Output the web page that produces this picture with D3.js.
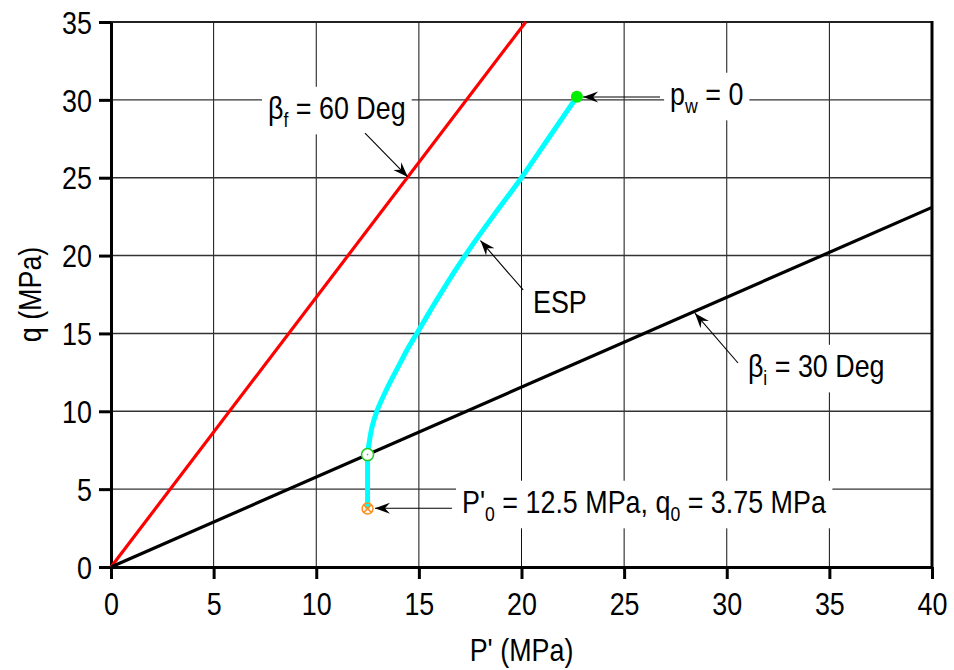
<!DOCTYPE html>
<html>
<head>
<meta charset="utf-8">
<script src="https://cdn.jsdelivr.net/npm/d3@7"></script>
<style>
  body { margin: 0; background: #fff; }
  svg { display: block; }
</style>
</head>
<body>
<svg id="chart" width="954" height="670"></svg>
<script>
// ---- data ----
const xTicks = [0, 5, 10, 15, 20, 25, 30, 35, 40];
const yTicks = [0, 5, 10, 15, 20, 25, 30, 35];

// failure and initial stress-path lines (angles in degrees)
const failureAngle = 60;
const initialAngle = 30;

// effective stress path (P', q) in MPa
const espP = [12.5, 12.5, 12.58, 12.72, 12.95, 13.28, 13.65, 14.05, 14.45, 14.9, 15.35, 15.8, 16.27, 16.75, 17.25, 18.6, 20.0, 21.35, 22.7];
const espQ = [3.75, 7.22, 8.0, 9.0, 10.0, 11.0, 12.0, 13.0, 14.0, 15.0, 16.0, 17.0, 18.0, 19.0, 20.0, 22.5, 25.0, 27.6, 30.2];

const startP = 12.5, startQ = 3.75;   // P'0, q0
const endP = 22.7, endQ = 30.2;       // pw = 0

// ---- layout ----
const W = 954, H = 670;
const margin = { left: 111, right: 22, top: 22, bottom: 103 };
const FONT = "'Liberation Sans', Arial, Helvetica, sans-serif";
const FS = 32, SUB = 21, SX = 0.84;

const svg = d3.select("#chart");
const x = d3.scaleLinear().domain([0, 40]).range([margin.left, W - margin.right]);
const y = d3.scaleLinear().domain([0, 35]).range([H - margin.bottom, margin.top]);

// ---- grid ----
const grid = svg.append("g");
grid.selectAll("line.v").data(xTicks.slice(1, -1)).join("line")
  .attr("x1", d => x(d)).attr("x2", d => x(d))
  .attr("y1", y(0)).attr("y2", y(35))
  .attr("stroke", "#111").attr("stroke-width", 1);
grid.selectAll("line.h").data(yTicks.slice(1, -1)).join("line")
  .attr("y1", d => y(d)).attr("y2", d => y(d))
  .attr("x1", x(0)).attr("x2", x(40))
  .attr("stroke", "#333").attr("stroke-width", 1.4);

// ---- annotation text helper ----
function makeLabel(px, py, parts) {
  const g = svg.append("g").attr("transform", `translate(${x(px)},${y(py)})`);
  const t = g.append("text")
    .attr("transform", `scale(${SX},1)`)
    .attr("font-family", FONT).attr("font-size", FS).attr("fill", "#000");
  let shift = 0;
  parts.forEach(p => {
    const sub = !!p.sub;
    const dy = sub ? 8 - shift : -shift;
    shift = sub ? 8 : 0;
    t.append("tspan").attr("dy", dy).attr("font-size", sub ? SUB : FS).text(p.t);
  });
  const bb = g.node().getBBox();
  g.insert("rect", "text")
    .attr("x", bb.x - 6).attr("y", bb.y - 3)
    .attr("width", bb.width + 12).attr("height", bb.height + 6)
    .attr("fill", "#fff");
  return g;
}

// labels sit under the data lines so their white boxes only mask the grid
makeLabel(7.65, 28.77, [{ t: "β" }, { t: "f", sub: true }, { t: " = 60 Deg" }]);
makeLabel(27.24, 29.67, [{ t: "p" }, { t: "w", sub: true }, { t: " = 0" }]);
makeLabel(20.56, 16.31, [{ t: "ESP" }]);
makeLabel(31.03, 12.2, [{ t: "β" }, { t: "i", sub: true }, { t: " = 30 Deg" }]);
makeLabel(17.1, 3.47, [{ t: "P'" }, { t: "0", sub: true }, { t: " = 12.5 MPa, q" }, { t: "0", sub: true }, { t: " = 3.75 MPa" }]);

// ---- frame and axes ----
svg.append("line").attr("x1", x(0)).attr("x2", x(40)).attr("y1", y(35)).attr("y2", y(35))
  .attr("stroke", "#222").attr("stroke-width", 2);
svg.append("line").attr("x1", x(40)).attr("x2", x(40)).attr("y1", y(35) - 1).attr("y2", y(0))
  .attr("stroke", "#000").attr("stroke-width", 3);

const xAxis = svg.append("g").attr("transform", `translate(0,${y(0)})`)
  .call(d3.axisBottom(x).tickValues(xTicks).tickSize(12).tickSizeOuter(0).tickPadding(13));
const yAxis = svg.append("g").attr("transform", `translate(${x(0)},0)`)
  .call(d3.axisLeft(y).tickValues(yTicks).tickSize(12).tickSizeOuter(0).tickPadding(6));
[xAxis, yAxis].forEach(a => {
  a.select(".domain").attr("stroke", "#000").attr("stroke-width", 3);
  a.selectAll(".tick line").attr("stroke", "#000").attr("stroke-width", 3);
  a.selectAll(".tick text").attr("font-family", FONT).attr("font-size", FS).attr("fill", "#000");
});
xAxis.selectAll(".tick text").attr("transform", `scale(${SX},1)`);
yAxis.selectAll(".tick text")
  .attr("x", -19 / SX).attr("dy", "0.35em")
  .attr("transform", `scale(${SX},1)`);

// ---- failure / initial lines ----
const tanF = Math.tan(failureAngle * Math.PI / 180);
const tanI = Math.tan(initialAngle * Math.PI / 180);
const line = d3.line().x(d => x(d[0])).y(d => y(d[1]));
svg.append("path").datum([[0, 0], [35 / tanF, 35]]).attr("d", line)
  .attr("stroke", "#ff0000").attr("stroke-width", 3.2).attr("fill", "none");
svg.append("path").datum([[0, 0], [40, 40 * tanI]]).attr("d", line)
  .attr("stroke", "#000").attr("stroke-width", 3.2).attr("fill", "none");

// ---- effective stress path ----
const espData = espP.map((p, i) => [p, espQ[i]]);
svg.append("path").datum(espData)
  .attr("d", d3.line().x(d => x(d[0])).y(d => y(d[1])).curve(d3.curveMonotoneY))
  .attr("stroke", "#00ffff").attr("stroke-width", 5).attr("fill", "none")
  .attr("stroke-linejoin", "round");

// yield point on the initial line
const yieldQ = startP * tanI;
svg.append("circle").attr("cx", x(startP)).attr("cy", y(yieldQ)).attr("r", 6)
  .attr("fill", "#fff").attr("stroke", "#22cc22").attr("stroke-width", 1.5);
svg.append("circle").attr("cx", x(startP)).attr("cy", y(yieldQ)).attr("r", 0.8)
  .attr("fill", "#22cc22");

// start point
const sx0 = x(startP), sy0 = y(startQ);
svg.append("circle").attr("cx", sx0).attr("cy", sy0).attr("r", 5.5)
  .attr("fill", "none").attr("stroke", "#ff8c1a").attr("stroke-width", 1.5);
svg.append("path")
  .attr("d", `M${sx0 - 4},${sy0 - 4}L${sx0 + 4},${sy0 + 4}M${sx0 - 4},${sy0 + 4}L${sx0 + 4},${sy0 - 4}`)
  .attr("stroke", "#ff8c1a").attr("stroke-width", 1.5);

// end point (pw = 0)
svg.append("circle").attr("cx", x(endP)).attr("cy", y(endQ)).attr("r", 6)
  .attr("fill", "#00ee00");

// ---- arrows ----
svg.append("defs").append("marker")
  .attr("id", "arrow").attr("viewBox", "-16 -6 17 12")
  .attr("refX", 0).attr("refY", 0)
  .attr("markerWidth", 17).attr("markerHeight", 12)
  .attr("markerUnits", "userSpaceOnUse").attr("orient", "auto")
  .append("path").attr("d", "M0,0L-15,-5.5L-10,0L-15,5.5Z").attr("fill", "#000");

const arrows = [
  [[12.375, 27.87], [14.46, 25.05]],
  [[20.08, 17.79], [18.0, 20.96]],
  [[26.75, 30.18], [23.0, 30.18]],
  [[30.55, 13.1], [28.45, 16.3]],
  [[16.61, 3.77], [12.86, 3.77]]
];
arrows.forEach(a => {
  svg.append("line")
    .attr("x1", x(a[0][0])).attr("y1", y(a[0][1]))
    .attr("x2", x(a[1][0])).attr("y2", y(a[1][1]))
    .attr("stroke", "#000").attr("stroke-width", 1.1)
    .attr("marker-end", "url(#arrow)");
});

// ---- axis titles ----
svg.append("text")
  .attr("transform", `translate(${(x(0) + x(40)) / 2},661) scale(${SX},1)`)
  .attr("text-anchor", "middle")
  .attr("font-family", FONT).attr("font-size", FS).text("P' (MPa)");
svg.append("text")
  .attr("transform", `translate(41,${(y(0) + y(35)) / 2}) rotate(-90) scale(${SX},1)`)
  .attr("text-anchor", "middle")
  .attr("font-family", FONT).attr("font-size", FS).text("q (MPa)");
</script>
</body>
</html>
